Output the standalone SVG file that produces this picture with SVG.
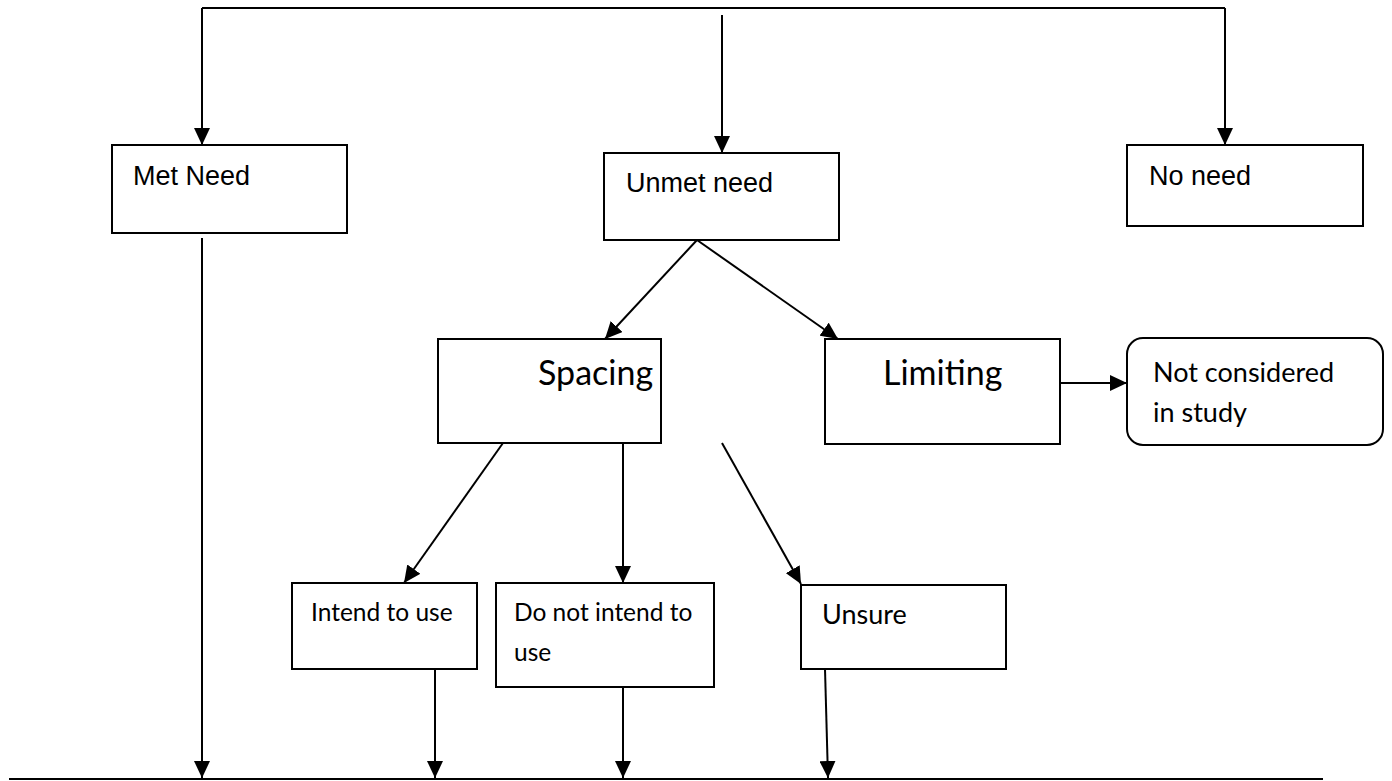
<svg xmlns="http://www.w3.org/2000/svg" width="1392" height="781" viewBox="0 0 1392 781">
<style>
.box{fill:#fff;stroke:#000;stroke-width:2}
.ln{fill:none;stroke:#000;stroke-width:2}
.ar{fill:none;stroke:#000;stroke-width:2;marker-end:url(#ah)}
.t1{font-family:"Liberation Sans",Arial,sans-serif;font-size:27px;fill:#000}
.t2{font-family:Lato,"Liberation Sans",sans-serif;font-size:27px;fill:#000}
.t4{font-family:Lato,"Liberation Sans",sans-serif;font-size:24.5px;fill:#000}
.t3{font-family:Lato,"Liberation Sans",sans-serif;font-size:34px;fill:#000}
</style>
<defs>
<marker id="ah" markerUnits="userSpaceOnUse" markerWidth="18" markerHeight="16" refX="17" refY="8" orient="auto">
<path d="M0,0 L17,8 L0,16 z" fill="#000"/>
</marker>
</defs>
<rect width="1392" height="781" fill="#fff"/>
<g id="connectors">
<line class="ln" x1="202" y1="8" x2="1225" y2="8"/>
<line class="ar" x1="202" y1="8" x2="202" y2="145"/>
<line class="ar" x1="1225" y1="8" x2="1225" y2="145"/>
<line class="ar" x1="722" y1="15" x2="722" y2="153"/>
<line class="ar" x1="697" y1="240" x2="605" y2="339"/>
<line class="ar" x1="697" y1="240" x2="838" y2="339"/>
<line class="ar" x1="1060" y1="383" x2="1127" y2="383"/>
<line class="ar" x1="503" y1="443" x2="404" y2="583"/>
<line class="ar" x1="623" y1="443" x2="623" y2="583"/>
<line class="ar" x1="722" y1="443" x2="801" y2="584"/>
<line class="ar" x1="202" y1="238" x2="202" y2="778"/>
<line class="ar" x1="435" y1="670" x2="435" y2="778"/>
<line class="ar" x1="623" y1="687" x2="623" y2="778"/>
<line class="ar" x1="825" y1="669" x2="828" y2="778"/>
<line class="ln" x1="9" y1="779" x2="1323" y2="779"/>
</g>
<g id="met-need">
<rect class="box" x="112" y="145" width="235" height="88"/>
<text class="t1" x="133" y="185">Met Need</text>
</g>
<g id="unmet-need">
<rect class="box" x="604" y="153" width="235" height="87"/>
<text class="t1" x="626" y="192">Unmet need</text>
</g>
<g id="no-need">
<rect class="box" x="1127" y="145" width="236" height="81"/>
<text class="t1" x="1149" y="185">No need</text>
</g>
<g id="spacing">
<rect class="box" x="438" y="339" width="223" height="104"/>
<text class="t3" x="538" y="385">Spacing</text>
</g>
<g id="limiting">
<rect class="box" x="825" y="339" width="235" height="105"/>
<text class="t3" x="883" y="385">Limiting</text>
</g>
<g id="not-considered">
<rect class="box" x="1127" y="338" width="256" height="107" rx="16" ry="16"/>
<text class="t2" x="1153" y="382">Not considered</text>
<text class="t2" x="1153" y="422">in study</text>
</g>
<g id="intend">
<rect class="box" x="292" y="583" width="185" height="86"/>
<text class="t4" x="311" y="621">Intend to use</text>
</g>
<g id="do-not-intend">
<rect class="box" x="496" y="583" width="218" height="104"/>
<text class="t4" x="514" y="621">Do not intend to</text>
<text class="t4" x="514" y="661">use</text>
</g>
<g id="unsure">
<rect class="box" x="801" y="585" width="205" height="84"/>
<text class="t2" x="822" y="624">Unsure</text>
</g>
</svg>
